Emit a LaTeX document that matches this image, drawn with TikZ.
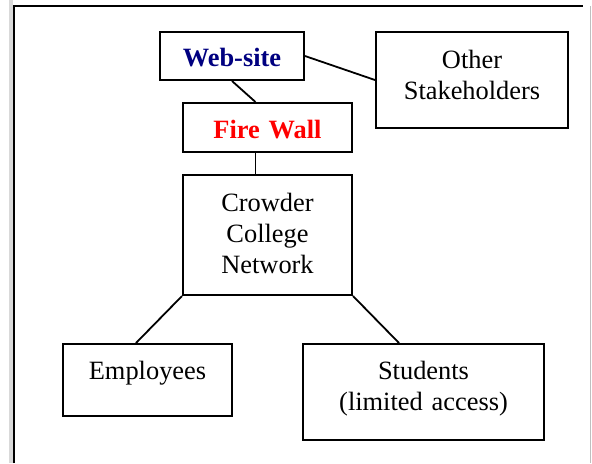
\documentclass[tikz,border=0pt]{standalone}
\usepackage{fontspec}
\setmainfont{Liberation Serif}
\definecolor{navy}{RGB}{0,0,128}

\begin{document}
\begin{tikzpicture}[x=0.5pt, y=-0.5pt,
    box/.style={draw, line width=1pt, inner sep=0pt, align=center,
      font=\fontsize{13.2}{15.5}\selectfont},
    link/.style={line width=0.9pt}
    ]
    \useasboundingbox (0,0) rectangle (592,463);
    % page edge
    \fill[black!15] (9,0) rectangle (13,463);
    \draw[line width=1.1pt] (14,463) -- (14,6) -- (583,6);
    \draw[black!25, line width=0.5pt] (590,6) -- (590,463);

    \node[box, text width=72pt, text height=17pt, text depth=7pt] (web) at (232,56)
      {\textcolor{navy}{\bfseries Web-site}};
    \node[box, text width=84.5pt, text height=17.5pt, text depth=7pt] (fire) at (267.5,127.5)
      {\textcolor{red}{\bfseries Fire Wall}};
    \node[box, text width=96pt, text height=18pt, text depth=30pt] (other) at (472,80)
      {Other\\Stakeholders};
    \node[box, text width=84.5pt, text height=18pt, text depth=42pt] (crowder) at (267.5,235)
      {Crowder\\College\\Network};
    \node[box, text width=84.5pt, text height=17.5pt, text depth=18.5pt] (emp) at (147.5,380)
      {Employees};
    \node[box, text width=120.5pt, text height=17.5pt, text depth=30.5pt] (stud) at (423.5,392)
      {Students\\(limited access)};

    \draw[link] (web.east) -- (other.west);
    \draw[link] (web.south) -- ([xshift=-6pt]fire.north);
    \draw[link] ([xshift=-6pt]fire.south) -- ([xshift=-6pt]crowder.north);
    \draw[link] (crowder.south west) -- ([xshift=-5.75pt]emp.north);
    \draw[link] (crowder.south east) -- ([xshift=-12.25pt]stud.north);
  \end{tikzpicture}
\end{document}
